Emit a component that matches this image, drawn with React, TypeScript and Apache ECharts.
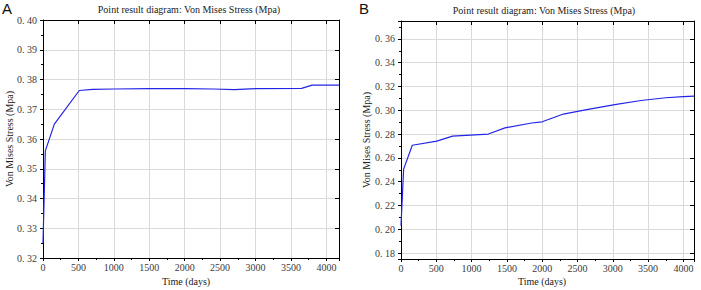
import React, { useEffect, useRef } from "react";
import * as echarts from "echarts";

// Panel A: stress history at the point (days, MPa)
const daysA = [0, 33, 160, 512, 700, 1000, 1500, 2000, 2400, 2700, 3000, 3650, 3800, 4178];
const stressA = [0.325, 0.356, 0.365, 0.3763, 0.3767, 0.3768, 0.3769, 0.3769, 0.3768, 0.3766, 0.3769, 0.377, 0.3781, 0.3781];

// Panel B: stress history at the point (days, MPa)
const daysB = [0, 37, 160, 508, 730, 1237, 1473, 1850, 2000, 2300, 2630, 3050, 3400, 3750, 4000, 4150];
const stressB = [0.203, 0.2505, 0.2706, 0.274, 0.2782, 0.28, 0.2852, 0.2893, 0.2903, 0.2968, 0.3005, 0.305, 0.3082, 0.3105, 0.3115, 0.3118];

const panelTitles = ["Point result diagram: Von Mises Stress (Mpa)", "Point result diagram: Von Mises Stress (Mpa)"];
const panelLetters = ["A", "B"];
const xName = "Time (days)";
const yName = "Von Mises Stress (Mpa)";

const SERIF = "Liberation Serif";
const LINE_BLUE = "#2424e6";

const fmtY = (v: number) => v.toFixed(2).replace(".", ".\u00a0");
const fmtX = (v: number) => String(Math.round(v));

function mainX(gridIndex: number, max: number) {
  return {
    type: "value",
    gridIndex,
    position: "bottom",
    min: 0,
    max,
    interval: 500,
    axisLine: { show: true, onZero: false, lineStyle: { color: "#000", width: 1 } },
    axisTick: { show: true, length: 3, lineStyle: { color: "#000" } },
    minorTick: { show: true, splitNumber: 2, length: 2, lineStyle: { color: "#000" } },
    splitLine: { show: true, lineStyle: { color: "#dadada", width: 1 } },
    axisLabel: {
      color: "#3a3a3a",
      fontFamily: SERIF,
      fontSize: 10,
      margin: 4,
      formatter: fmtX,
      showMaxLabel: false,
    },
  };
}

function mirrorX(gridIndex: number, max: number) {
  return {
    type: "value",
    gridIndex,
    position: "top",
    min: 0,
    max,
    interval: 500,
    axisLine: { show: true, onZero: false, lineStyle: { color: "#000", width: 1 } },
    axisTick: { show: true, inside: true, length: 4, lineStyle: { color: "#000" } },
    axisLabel: { show: false },
    splitLine: { show: false },
  };
}

function mainY(gridIndex: number, min: number, max: number, splitNumber: number, endLabels: boolean) {
  return {
    type: "value",
    gridIndex,
    position: "left",
    min,
    max,
    splitNumber,
    axisLine: { show: true, onZero: false, lineStyle: { color: "#000", width: 1 } },
    axisTick: { show: true, length: 3, lineStyle: { color: "#000" } },
    minorTick: { show: true, splitNumber: 2, length: 2, lineStyle: { color: "#000" } },
    splitLine: { show: true, lineStyle: { color: "#dadada", width: 1 } },
    axisLabel: {
      color: "#3a3a3a",
      fontFamily: SERIF,
      fontSize: 10,
      margin: 6,
      formatter: fmtY,
      showMinLabel: endLabels,
      showMaxLabel: endLabels,
    },
  };
}

function mirrorY(gridIndex: number, min: number, max: number, splitNumber: number) {
  return {
    type: "value",
    gridIndex,
    position: "right",
    min,
    max,
    splitNumber,
    axisLine: { show: true, onZero: false, lineStyle: { color: "#000", width: 1 } },
    axisTick: { show: true, inside: true, length: 4, lineStyle: { color: "#000" } },
    axisLabel: { show: false },
    splitLine: { show: false },
  };
}

function text(x: number, y: number, str: string, extra: any = {}) {
  return {
    type: "text",
    x,
    y,
    rotation: extra.rotation || 0,
    style: {
      text: str,
      fill: extra.fill || "#222",
      font: extra.font || `10px ${SERIF}`,
      textAlign: extra.align || "center",
      textVerticalAlign: "middle",
    },
  };
}

export default function App() {
  const ref = useRef<HTMLDivElement>(null);

  useEffect(() => {
    document.body.style.margin = "0";
    if (!ref.current) return;
    const chart = echarts.init(ref.current, null, { renderer: "svg" });

    const option = {
      animation: false,
      backgroundColor: "#fff",
      textStyle: { fontFamily: SERIF },
      grid: [
        { left: 43, top: 20, width: 296, height: 238 },
        { left: 401, top: 21, width: 293, height: 238 },
      ],
      xAxis: [mainX(0, 4178), mirrorX(0, 4178), mainX(1, 4150), mirrorX(1, 4150)],
      yAxis: [
        mainY(0, 0.32, 0.4, 8, true),
        mirrorY(0, 0.32, 0.4, 8),
        mainY(1, 0.175, 0.375, 10, false),
        mirrorY(1, 0.175, 0.375, 10),
      ],
      series: [
        {
          type: "line",
          xAxisIndex: 0,
          yAxisIndex: 0,
          data: daysA.map((d, i) => [d, stressA[i]]),
          showSymbol: false,
          lineStyle: { color: LINE_BLUE, width: 1.2 },
        },
        {
          type: "line",
          xAxisIndex: 2,
          yAxisIndex: 2,
          data: daysB.map((d, i) => [d, stressB[i]]),
          showSymbol: false,
          lineStyle: { color: LINE_BLUE, width: 1.2 },
        },
      ],
      graphic: [
        text(189, 9, panelTitles[0], { font: `10px ${SERIF}` }),
        text(544, 10, panelTitles[1], { font: `10px ${SERIF}` }),
        text(2, 8, panelLetters[0], { align: "left", font: "15px Liberation Sans", fill: "#111" }),
        text(359, 8, panelLetters[1], { align: "left", font: "15px Liberation Sans", fill: "#111" }),
        text(186, 281, xName),
        text(542, 281, xName),
        text(9, 139, yName, { rotation: Math.PI / 2 }),
        text(366, 140, yName, { rotation: Math.PI / 2 }),
      ],
    };

    chart.setOption(option as any);
    return () => chart.dispose();
  }, []);

  return <div ref={ref} style={{ width: 701, height: 290 }} />;
}
